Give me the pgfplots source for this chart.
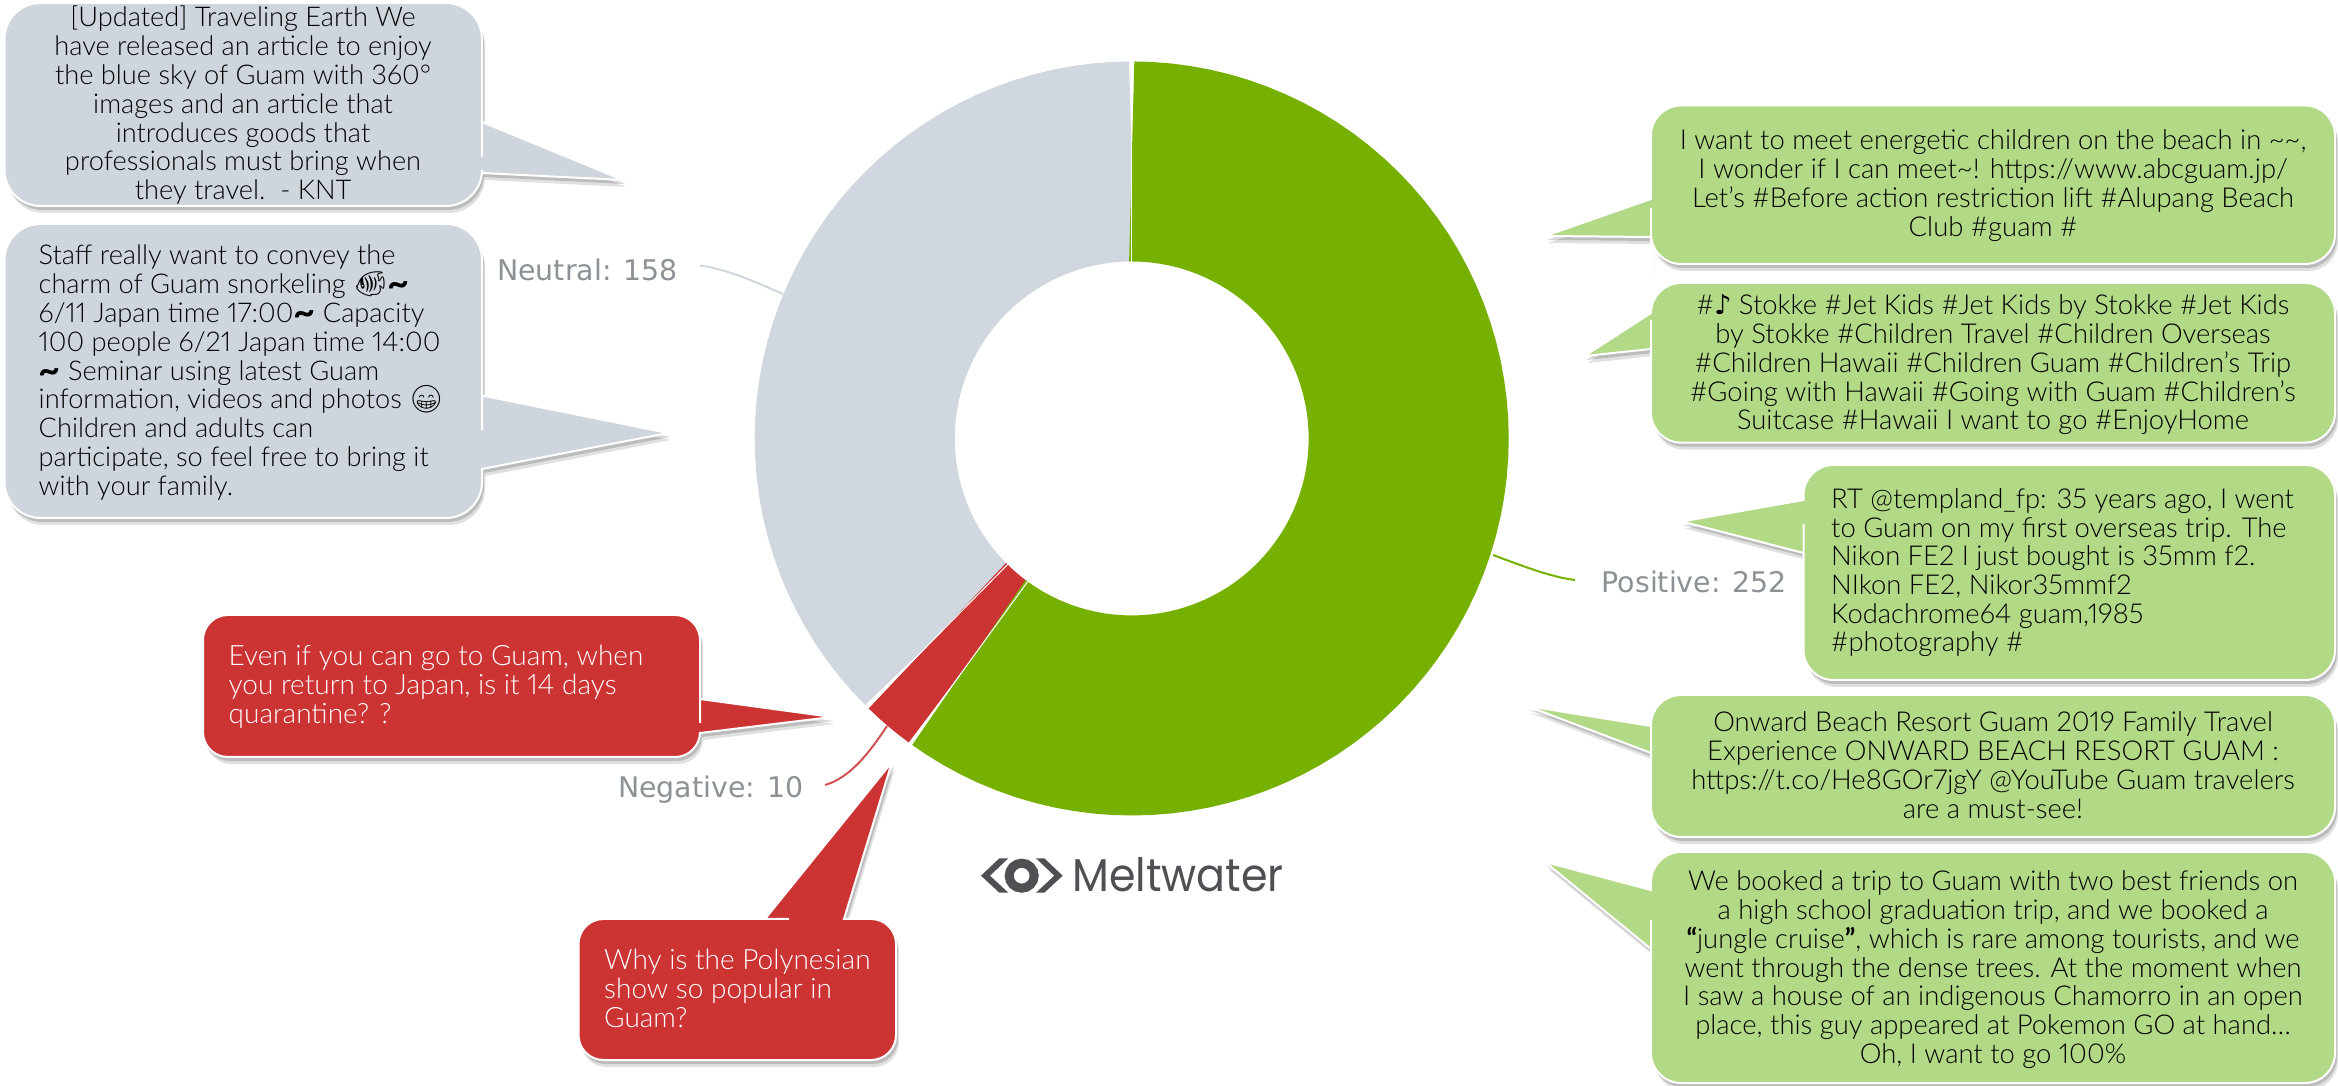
\documentclass[border=0pt]{standalone}
\usepackage{fontspec}
\usepackage{pgfplots}
\pgfplotsset{compat=1.18}
\usetikzlibrary{shadows}
\setmainfont{Lato Light}[Numbers=Proportional]
\newfontfamily\boldf{Lato}[BoldFont={Lato Bold}]
\newfontfamily\labelf{DejaVu Sans}
\newfontfamily\logof{Poppins}
\newfontfamily\emoji{Noto Emoji}

\definecolor{posc}{HTML}{76B000}
\definecolor{neuc}{HTML}{D0D7DE}
\definecolor{negc}{HTML}{CC3333}
\definecolor{gbub}{HTML}{B1D986}
\definecolor{nbub}{HTML}{CED5DC}
\definecolor{labc}{HTML}{8C9196}
\definecolor{logoc}{HTML}{4E5054}

\newcommand{\wave}{\raisebox{-3pt}{\fontsize{38}{38}\selectfont\boldf\bfseries\textasciitilde}}

\tikzset{bub/.style={fill=bubc, draw=white, line width=2pt,
  drop shadow={shadow xshift=3pt,shadow yshift=-7pt,opacity=.12,fill=black},
  drop shadow={shadow xshift=2pt,shadow yshift=-4pt,opacity=.16,fill=black}}}

% x0 y0 x1 y1 p0 tipx tipy p1 (pixels, y down); pointer on the left edge
\newcommand{\bubL}[8]{\path[bub,rounded corners=\bubr] ({#1+100},#2) -- (#3,#2) -- (#3,#4) -- (#1,#4) -- (#1,{#8+1})
  [sharp corners] -- (#1,#8) -- (#6,#7) -- (#1,#5) -- (#1,{#5-1}) [rounded corners=\bubr] -- (#1,#2) -- cycle;}
% pointer on the right edge
\newcommand{\bubR}[8]{\path[bub,rounded corners=\bubr] ({#1+100},#2) -- (#3,#2) -- (#3,{#5-1})
  [sharp corners] -- (#3,#5) -- (#6,#7) -- (#3,#8) -- (#3,{#8+1}) [rounded corners=\bubr] -- (#3,#4) -- (#1,#4) -- (#1,#2) -- cycle;}
% pointer on the top edge: p0 p1 are x positions
\newcommand{\bubT}[8]{\path[bub,rounded corners=\bubr] ({#1+40},#2) -- ({#5-1},#2)
  [sharp corners] -- (#5,#2) -- (#6,#7) -- (#8,#2) -- ({#8+1},#2) [rounded corners=\bubr] -- (#3,#2) -- (#3,#4) -- (#1,#4) -- (#1,#2) -- cycle;}
% x, first baseline, anchor, lines
\newcommand{\lines}[4]{\foreach \t [count=\i from 0] in {#4}{
  \node[anchor=#3,inner sep=0pt,text=\txtc,font=\fontsize{\txts}{\txts}\selectfont] at (#1,{#2+\i*\txtl}) {\t};}}

\begin{document}
\begin{tikzpicture}
\begin{axis}[
  at={(0,0)}, anchor=south west,
  scale only axis, width=2338pt, height=1085pt,
  hide axis, clip=false, no markers,
  xmin=-1131.7, xmax=1206.3, ymin=-646.5, ymax=438.5,
  data cs=polar,
]
% Neutral 158, Negative 10, Positive 252 of 420: arcs as (angle,mid radius)
\addplot[neuc, line width=200pt, line cap=butt] coordinates {
(-134.57,277)(-138,277)(-141,277)(-144,277)(-147,277)(-150,277)(-153,277)(-156,277)(-159,277)(-162,277)
(-165,277)(-168,277)(-171,277)(-174,277)(-177,277)(-180,277)(-183,277)(-186,277)(-189,277)(-192,277)
(-195,277)(-198,277)(-201,277)(-204,277)(-207,277)(-210,277)(-213,277)(-216,277)(-219,277)(-222,277)
(-225,277)(-228,277)(-231,277)(-234,277)(-237,277)(-240,277)(-243,277)(-246,277)(-249,277)(-252,277)
(-255,277)(-258,277)(-261,277)(-264,277)(-267,277)(-270,277)};
\addplot[negc, line width=200pt, line cap=butt] coordinates {
(-126,277)(-128,277)(-130,277)(-132,277)(-134.57,277)};
\addplot[posc, line width=200pt, line cap=butt] coordinates {
(90,277)(87,277)(84,277)(81,277)(78,277)(75,277)(72,277)(69,277)(66,277)(63,277)
(60,277)(57,277)(54,277)(51,277)(48,277)(45,277)(42,277)(39,277)(36,277)(33,277)
(30,277)(27,277)(24,277)(21,277)(18,277)(15,277)(12,277)(9,277)(6,277)(3,277)
(0,277)(-3,277)(-6,277)(-9,277)(-12,277)(-15,277)(-18,277)(-21,277)(-24,277)(-27,277)
(-30,277)(-33,277)(-36,277)(-39,277)(-42,277)(-45,277)(-48,277)(-51,277)(-54,277)(-57,277)
(-60,277)(-63,277)(-66,277)(-69,277)(-72,277)(-75,277)(-78,277)(-81,277)(-84,277)(-87,277)
(-90,277)(-93,277)(-96,277)(-99,277)(-102,277)(-105,277)(-108,277)(-111,277)(-114,277)(-117,277)
(-120,277)(-123,277)(-126,277)};
\addplot[white, line width=1pt] coordinates {(90,175)(90,379)};
\addplot[white, line width=1pt] coordinates {(-126,175)(-126,379)};
\addplot[white, line width=1pt] coordinates {(-134.57,175)(-134.57,379)};
\end{axis}

\begin{scope}[x=1pt,y=-1pt,yshift=1085pt]
% leader lines
\draw[neuc,line width=2pt] (700,265.5) .. controls (730,270) and (755,282) .. (783,294);
\draw[posc,line width=2pt] (1493,555) .. controls (1520,565) and (1550,577) .. (1575,580);
\draw[negc!85!white,line width=2pt] (887,726) .. controls (870,752) and (850,778) .. (825,785);

% labels
\def\txtc{labc}\def\txts{28.4}\def\txtl{29}
\lines{497}{281}{base west}{{\labelf Neutral: 158}}
\lines{1601.5}{593}{base west}{{\labelf Positive: 252}}
\lines{618}{798}{base west}{{\labelf Negative: 10}}

% grey bubbles
\colorlet{bubc}{nbub}\def\bubr{36pt}
\bubR{4.5}{3}{482}{206}{122}{623}{180}{173}
\bubR{4.5}{224}{482}{518}{395.5}{668}{433}{469}
\def\txtc{black}\def\txts{27.2}\def\txtl{28.8}
\lines{243}{27}{base}{{[Updated] Traveling Earth We},{have released an article to enjoy},{the blue sky of Guam with 360°},{images and an article that},{introduces goods that},{professionals must bring when},{they travel.\ \ - KNT}}
\lines{38.5}{265}{base west}{{Staff really want to convey the},{charm of Guam snorkeling {\emoji 🐠}\wave},{6/11 Japan time 17:00\wave\ Capacity},{100 people 6/21 Japan time 14:00},{\wave\ Seminar using latest Guam},{information, videos and photos {\emoji 😁}},{Children and adults can},{participate, so feel free to bring it},{with your family.}}

% red bubbles
\colorlet{bubc}{negc}\def\bubr{25pt}
\bubR{203}{615}{700}{757}{699}{832}{717}{733}
\bubT{578.5}{919}{896}{1060}{765}{892}{762}{844}
\def\txtc{white}\def\txtl{28.7}\def\txts{28}
\lines{228.5}{666}{base west}{{Even if you can go to Guam, when},{you return to Japan, is it 14 days},{quarantine? ?}}
\lines{604}{970}{base west}{{Why is the Polynesian},{show so popular in},{Guam?}}

% green bubbles
\colorlet{bubc}{gbub}\def\bubr{30pt}
\bubL{1651}{105.5}{2335}{264}{199}{1545}{236}{237}
\bubL{1651}{283}{2335}{442.6}{313}{1584.5}{356}{349}
\bubL{1803.5}{465}{2335}{680}{500}{1682}{521.5}{553}
\bubL{1651}{695}{2335}{837}{726}{1527}{706}{753}
\bubL{1651}{852}{2335}{1083}{890}{1545}{862}{949}
\def\txtc{black}\def\txts{27.4}
\lines{1993}{150}{base}{{I want to meet energetic children on the beach in \textasciitilde\textasciitilde,},{I wonder if I can meet\textasciitilde! https://www.abcguam.jp/},{Let's \#Before action restriction lift \#Alupang Beach},{Club \#guam \#}}
\lines{1993}{315}{base}{{\#{\labelf ♪} Stokke \#Jet Kids \#Jet Kids by Stokke \#Jet Kids},{by Stokke \#Children Travel \#Children Overseas},{\#Children Hawaii \#Children Guam \#Children's Trip},{\#Going with Hawaii \#Going with Guam \#Children's},{Suitcase \#Hawaii I want to go \#EnjoyHome}}
\lines{1831}{508.5}{base west}{{RT @templand\_fp: 35 years ago, I went},{to Guam on my first overseas trip. The},{Nikon FE2 I just bought is 35mm f2.},{NIkon FE2, Nikor35mmf2},{Kodachrome64 guam,1985},{\#photography \#}}
\lines{1993}{732}{base}{{Onward Beach Resort Guam 2019 Family Travel},{Experience ONWARD BEACH RESORT GUAM :},{https://t.co/He8GOr7jgY @YouTube Guam travelers},{are a must-see!}}
\lines{1993}{891}{base}{{We booked a trip to Guam with two best friends on},{a high school graduation trip, and we booked a},{{\boldf\bfseries “}jungle cruise{\boldf\bfseries ”}, which is rare among tourists, and we},{went through the dense trees. At the moment when},{I saw a house of an indigenous Chamorro in an open},{place, this guy appeared at Pokemon GO at hand\ldots},{Oh, I want to go 100\%}}

% logo
\fill[logoc] (981,875.7) -- (999.3,858.3) -- (1008.3,858.3) -- (990,875.7) -- (1008.3,892.7) -- (999.3,892.7) -- cycle;
\fill[logoc] (1062.7,875.7) -- (1044.3,858.3) -- (1036,858.3) -- (1054.3,875.7) -- (1036,892.7) -- (1044.3,892.7) -- cycle;
\draw[logoc,line width=9pt] (1021.7,875.7) circle[radius=12.5];
\node[anchor=base west,inner sep=0pt,text=logoc,font=\logof\fontsize{46}{46}\selectfont] at (1072,892) {\scalebox{.93}[1]{Meltwater}};

\path[use as bounding box] (0,0) rectangle (2338,1085);
\end{scope}
\end{tikzpicture}
\end{document}
